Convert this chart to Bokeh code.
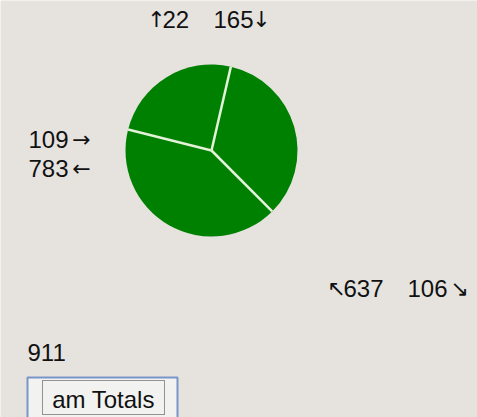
import numpy as np
from bokeh.plotting import figure
from bokeh.models import Range1d
from bokeh.core.properties import value
from bokeh.embed import file_html
from bokeh.resources import INLINE

# ---- data ----
slice_values = [225, 377, 309]
label_numbers = ["22", "165", "109", "783", "637", "106"]
label_arrows = ["↑", "↓", "→", "←", "↖", "↘"]
total_label = ["911"]
button_label = ["am Totals"]

# ---- style / layout ----
W, H = 477, 417
BG = "#e6e3df"
GREEN = "#008000"
SEP = "#e4f2d8"
FONT = value("Liberation Sans")
AFONT = value("DejaVu Sans")
start_deg = 77.0
cx, cy, R = 211, H - 150, 86

p = figure(width=W, height=H, x_range=Range1d(0, W), y_range=Range1d(0, H),
           output_backend="svg", toolbar_location=None, min_border=0)
p.axis.visible = False
p.grid.visible = False
p.outline_line_color = None
p.background_fill_color = BG
p.border_fill_color = BG

vals = np.array(slice_values, dtype=float)
frac = vals / vals.sum() * 2 * np.pi
starts = np.deg2rad(start_deg) + np.concatenate([[0.0], np.cumsum(frac)[:-1]])
ends = starts + frac

p.wedge(x=cx, y=cy, radius=R, radius_units="screen", start_angle=starts, end_angle=ends,
        fill_color=GREEN, line_color=None)
p.ray(x=cx, y=cy, length=R, length_units="screen", angle=starts, line_color=SEP, line_width=2.5)

# label layout (pixel positions, top-down)
num_x = [162, 213, 28, 28, 343, 407]
num_y = [19, 19, 139, 168, 288, 288]
arr_x = [156, 261, 81, 81, 336, 459]
arr_y = [19, 19, 139, 168, 288, 288]

p.text(x=num_x, y=[H - v for v in num_y], text=label_numbers, text_font=FONT,
       text_font_size="24px", text_baseline="middle", text_align="left", text_color="#111111")
p.text(x=arr_x, y=[H - v for v in arr_y], text=label_arrows, text_font=AFONT,
       text_font_size="22px", text_baseline="middle", text_align="center", text_color="#111111")

p.text(x=[27], y=[H - 352], text=total_label, text_font=FONT, text_font_size="24px",
       text_baseline="middle", text_align="left", text_color="#111111")

# button
p.quad(left=[27], right=[177], top=[H - 377], bottom=[-5], fill_color="#f2f2f0",
       line_color="#7896c8", line_width=2)
p.quad(left=[42], right=[164], top=[H - 380], bottom=[3], fill_color=None,
       line_color="#333333", line_width=1, line_dash="1 1")
p.text(x=[103], y=[H - 399], text=button_label, text_font=FONT, text_font_size="24px",
       text_baseline="middle", text_align="center", text_color="#111111")

open("out.html", "w").write(file_html(p, INLINE))
